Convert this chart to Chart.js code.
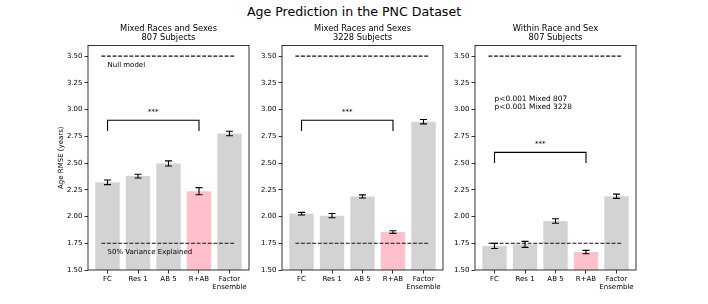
<!DOCTYPE html>
<html><head><meta charset="utf-8">
<script src="https://cdn.jsdelivr.net/npm/chart.js@4.4.1/dist/chart.umd.min.js"></script>
<style>
html,body{margin:0;padding:0;background:#fff;}
#wrap{position:relative;width:708px;height:304px;overflow:hidden;font-family:"DejaVu Sans",sans-serif;color:#000;}
#title{position:absolute;left:0;width:708px;top:4px;text-align:center;font-size:12.6px;line-height:16px;}
canvas{position:absolute;top:0;}
</style></head><body>
<div id="wrap">
<div id="title">Age Prediction in the PNC Dataset</div>
<canvas id="c0" width="241" height="304" style="left:28px"></canvas>
<canvas id="c1" width="241" height="304" style="left:222px"></canvas>
<canvas id="c2" width="241" height="304" style="left:415px"></canvas>
</div>
<script>
// ---- data ----
const categories = ['FC', 'Res 1', 'AB 5', 'R+AB', 'Factor Ensemble'];
const yTicks = [1.5, 1.75, 2.0, 2.25, 2.5, 2.75, 3.0, 3.25, 3.5];
const mixed807Rmse  = [2.32, 2.378, 2.497, 2.237, 2.777];
const mixed807Err   = [0.022, 0.017, 0.024, 0.033, 0.021];
const mixed3228Rmse = [2.027, 2.008, 2.188, 1.855, 2.887];
const mixed3228Err  = [0.012, 0.020, 0.015, 0.012, 0.020];
const withinRmse    = [1.725, 1.740, 1.958, 1.668, 2.190];
const withinErr     = [0.024, 0.028, 0.021, 0.016, 0.020];
const nullModelRmse = 3.5;
const halfVarianceRmse = 1.75;
const panelTitles = [
  ['Mixed Races and Sexes', '807 Subjects'],
  ['Mixed Races and Sexes', '3228 Subjects'],
  ['Within Race and Sex', '807 Subjects']
];
const pTexts = ['p<0.001 Mixed 807', 'p<0.001 Mixed 3228'];
const highlight = 'R+AB';

// ---- setup ----
Chart.defaults.font.family = '"DejaVu Sans", sans-serif';
Chart.defaults.color = '#000';
const FONT = '"DejaVu Sans", sans-serif';

const annot = {
  id: 'annot',
  afterDatasetsDraw(chart, args, o) {
    const {ctx, chartArea: a} = chart;
    const x = chart.scales.x, y = chart.scales.y;
    ctx.save();
    ctx.strokeStyle = '#000';
    ctx.fillStyle = '#000';
    // error bars
    ctx.lineWidth = 1.1;
    o.values.forEach((v, i) => {
      const px = x.getPixelForValue(i);
      const t = y.getPixelForValue(v + o.errs[i]);
      const b = y.getPixelForValue(v - o.errs[i]);
      ctx.beginPath();
      ctx.moveTo(px, t); ctx.lineTo(px, b);
      ctx.moveTo(px - 3.5, t); ctx.lineTo(px + 3.5, t);
      ctx.moveTo(px - 3.5, b); ctx.lineTo(px + 3.5, b);
      ctx.stroke();
    });
    // significance bracket
    const br = o.bracket;
    const x0 = x.getPixelForValue(0), x3 = x.getPixelForValue(3);
    const yb = y.getPixelForValue(br.y), yl = y.getPixelForValue(br.leg);
    ctx.lineWidth = 1.1;
    ctx.beginPath();
    ctx.moveTo(x0, yl); ctx.lineTo(x0, yb); ctx.lineTo(x3, yb); ctx.lineTo(x3, yl);
    ctx.stroke();
    ctx.font = '7px ' + FONT;
    ctx.textAlign = 'center';
    ctx.textBaseline = 'middle';
    ctx.fillText('***', x.getPixelForValue(1.5), y.getPixelForValue(br.star));
    // extra texts
    (o.texts || []).forEach(t => {
      ctx.font = t.size + 'px ' + FONT;
      ctx.textAlign = 'left';
      ctx.textBaseline = 'middle';
      ctx.fillText(t.text, x.getPixelForValue(t.x), y.getPixelForValue(t.y));
    });
    // frame
    ctx.lineWidth = 0.8;
    ctx.strokeRect(a.left, a.top, a.right - a.left, a.bottom - a.top);
    ctx.restore();
  }
};

function makePanel(id, titleLines, values, errs, bracket, texts, showYTitle) {
  const barColors = categories.map(c => c === highlight ? '#ffc0cb' : '#d3d3d3');
  new Chart(document.getElementById(id), {
    type: 'bar',
    data: {
      datasets: [
        {
          type: 'line',
          data: [{x: -0.2, y: nullModelRmse}, {x: 4.2, y: nullModelRmse}],
          borderColor: '#111', borderWidth: 1.1, borderDash: [3.9, 1.7],
          pointRadius: 0, order: 0
        },
        {
          type: 'line',
          data: [{x: -0.2, y: halfVarianceRmse}, {x: 4.2, y: halfVarianceRmse}],
          borderColor: '#111', borderWidth: 1.1, borderDash: [3.9, 1.7],
          pointRadius: 0, order: 0
        },
        {
          type: 'bar',
          data: values.map((v, i) => ({x: i, y: v})),
          backgroundColor: barColors,
          borderWidth: 0,
          barPercentage: 1.0,
          categoryPercentage: 0.8,
          order: 1
        }
      ]
    },
    options: {
      responsive: false,
      animation: false,
      events: [],
      layout: {padding: {top: 20, right: 20, left: 0, bottom: 0}},
      plugins: {
        legend: {display: false},
        tooltip: {enabled: false},
        title: {
          display: true, text: titleLines, fullSize: false, color: '#000',
          font: {size: 8.3, weight: 'normal', lineHeight: 1.1},
          padding: {top: 4.4, bottom: 2.8}
        },
        annot: {values: values, errs: errs, bracket: bracket, texts: texts}
      },
      scales: {
        x: {
          type: 'linear', min: -0.64, max: 4.64, offset: false,
          grid: {drawOnChartArea: false, offset: false, color: '#000', lineWidth: 0.8, tickLength: 3.5},
          border: {display: false},
          afterBuildTicks: s => { s.ticks = categories.map((c, i) => ({value: i})); },
          afterFit: s => { s.height = 34; },
          ticks: {
            padding: 2, maxRotation: 0, autoSkip: false,
            font: {size: 7, lineHeight: 1.1},
            callback: v => { const c = categories[v]; return c && c.includes(' ') && c.length > 8 ? c.split(' ') : c; }
          }
        },
        y: {
          type: 'linear', min: 1.5, max: 3.6, beginAtZero: false,
          grid: {drawOnChartArea: false, color: '#000', lineWidth: 0.8, tickLength: 3.5},
          border: {display: false},
          afterBuildTicks: s => { s.ticks = yTicks.map(v => ({value: v})); },
          afterFit: s => { s.width = 60; },
          ticks: {padding: 2, font: {size: 7}, callback: v => Number(v).toFixed(2)},
          title: {
            display: showYTitle, text: 'Age RMSE (years)', color: '#000',
            font: {size: 7, lineHeight: 1.2}, padding: {top: 28.8, bottom: 0}
          }
        }
      }
    },
    plugins: [annot]
  });
}

makePanel('c0', panelTitles[0], mixed807Rmse, mixed807Err,
  {y: 2.9, leg: 2.8, star: 2.98},
  [{text: 'Null model', x: 0, y: 3.42, size: 7},
   {text: '50% Variance Explained', x: 0, y: 1.67, size: 7}], true);
makePanel('c1', panelTitles[1], mixed3228Rmse, mixed3228Err,
  {y: 2.9, leg: 2.8, star: 2.98}, [], false);
makePanel('c2', panelTitles[2], withinRmse, withinErr,
  {y: 2.6, leg: 2.5, star: 2.68},
  [{text: pTexts[0], x: 0, y: 3.10, size: 7.4},
   {text: pTexts[1], x: 0, y: 3.025, size: 7.4}], false);
</script>
</body></html>
